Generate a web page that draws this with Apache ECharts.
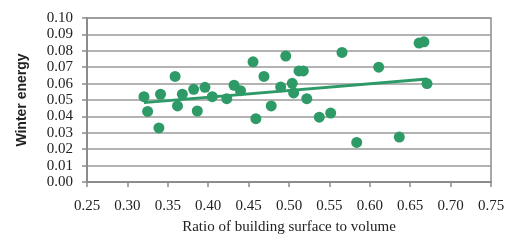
<!DOCTYPE html>
<html>
<head>
<meta charset="utf-8">
<script src="https://cdn.jsdelivr.net/npm/echarts@6/dist/echarts.min.js"></script>
<style>
  html, body { margin: 0; padding: 0; background: #fff; }
  #chart { width: 510px; height: 240px; }
</style>
</head>
<body>
<div id="chart"></div>
<script>
// ratio of building surface to volume
var ratio = [0.3205, 0.325, 0.339, 0.341, 0.359, 0.362, 0.368, 0.382, 0.3865, 0.396,
  0.405, 0.423, 0.432, 0.440, 0.4555, 0.459, 0.469, 0.478, 0.4897, 0.496,
  0.504, 0.5057, 0.5124, 0.5177, 0.522, 0.5375, 0.5516, 0.5656, 0.5838, 0.611,
  0.6365, 0.661, 0.667, 0.6708];
// winter energy
var winter = [0.052, 0.043, 0.033, 0.0535, 0.0644, 0.0464, 0.0535, 0.0565, 0.0433, 0.0577,
  0.052, 0.0508, 0.059, 0.0557, 0.0733, 0.0386, 0.0644, 0.0464, 0.058, 0.0768,
  0.0602, 0.0543, 0.0677, 0.0677, 0.0508, 0.0395, 0.042, 0.079, 0.0241, 0.070,
  0.0274, 0.0847, 0.0855, 0.060];
// trend line end points
var trendX = [0.3205, 0.6708];
var trendY = [0.0484, 0.0628];

var points = [];
for (var i = 0; i < ratio.length; i++) {
  points.push([ratio[i], winter[i]]);
}
var trend = [];
for (var j = 0; j < trendX.length; j++) {
  trend.push([trendX[j], trendY[j]]);
}

var green = "#2e9a67";
var serif = "'Liberation Serif', 'DejaVu Serif', serif";

var option = {
  animation: false,
  backgroundColor: "#fff",
  grid: {
    left: 87,
    right: 19,
    top: 18,
    bottom: 58,
    show: true,
    borderColor: "#8c8c8c",
    borderWidth: 1.5
  },
  xAxis: {
    type: "value",
    min: 0.25,
    max: 0.75,
    interval: 0.05,
    name: "Ratio of building surface to volume",
    nameLocation: "middle",
    nameGap: 38,
    nameTextStyle: { fontFamily: serif, fontSize: 15, color: "#222" },
    axisLine: { show: true, lineStyle: { color: "#8c8c8c", width: 2 } },
    axisTick: { show: true, length: 5, lineStyle: { color: "#8c8c8c", width: 1.5 } },
    axisLabel: {
      fontFamily: serif, fontSize: 15, color: "#222", margin: 17,
      formatter: function (v) { return v.toFixed(2); }
    },
    splitLine: { show: false }
  },
  yAxis: {
    type: "value",
    min: 0,
    max: 0.1,
    interval: 0.01,
    name: "Winter energy",
    nameLocation: "middle",
    nameGap: 58,
    nameTextStyle: {
      fontFamily: "'Liberation Sans', Arial, sans-serif",
      fontSize: 14, fontWeight: "bold", color: "#222"
    },
    axisLine: { show: true, lineStyle: { color: "#8c8c8c", width: 2 } },
    axisTick: { show: true, length: 5, lineStyle: { color: "#8c8c8c", width: 1.5 } },
    axisLabel: {
      fontFamily: serif, fontSize: 15, color: "#222", margin: 14,
      formatter: function (v) { return v.toFixed(2); }
    },
    splitLine: { show: true, lineStyle: { color: "#9a9a9a", width: 1.5 } }
  },
  series: [
    {
      type: "scatter",
      data: points,
      symbol: "circle",
      symbolSize: 11,
      itemStyle: { color: green, opacity: 1 },
      z: 3
    },
    {
      type: "line",
      data: trend,
      symbol: "none",
      lineStyle: { color: green, width: 3 },
      z: 2
    }
  ]
};

var myChart = echarts.init(document.getElementById("chart"));
myChart.setOption(option);
</script>
</body>
</html>
